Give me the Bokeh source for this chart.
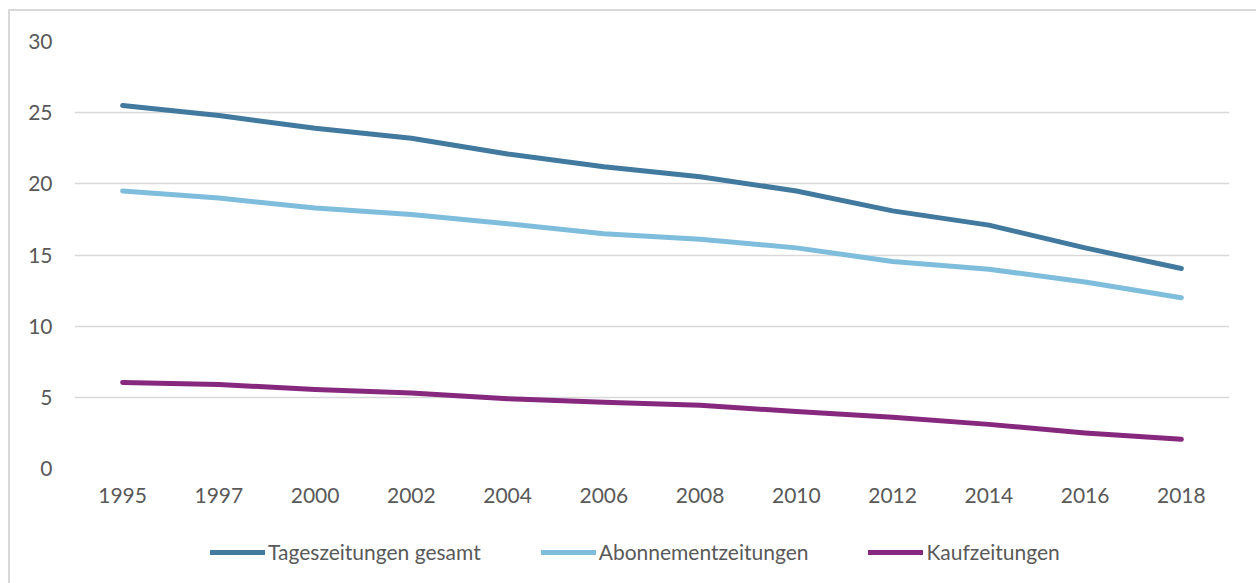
from bokeh.plotting import figure
from bokeh.models import Legend, LegendItem, FactorRange, Range1d, FixedTicker
from bokeh.layouts import column
from bokeh.embed import file_html
from bokeh.resources import INLINE

years = ["1995", "1997", "2000", "2002", "2004", "2006", "2008", "2010", "2012", "2014", "2016", "2018"]
tages = [25.5, 24.8, 23.9, 23.2, 22.1, 21.2, 20.5, 19.5, 18.1, 17.1, 15.5, 14.05]
abo = [19.5, 19.0, 18.3, 17.85, 17.2, 16.5, 16.1, 15.5, 14.55, 14.0, 13.1, 12.0]
kauf = [6.05, 5.9, 5.55, 5.3, 4.9, 4.65, 4.45, 4.0, 3.6, 3.1, 2.5, 2.05]
series_names = ["Tageszeitungen gesamt", "Abonnementzeitungen", "Kaufzeitungen"]
colors = ["#41799F", "#7FBDDC", "#86287E"]
yticks = [0, 5, 10, 15, 20, 25, 30]

FONT = "Lato"
TXT = "#595959"

p = figure(x_range=FactorRange(*years, range_padding=0), y_range=Range1d(0, 30),
           width=1246, height=510,
           min_border_left=64, min_border_top=30, min_border_right=27, min_border_bottom=53,
           output_backend="svg", toolbar_location=None)
p.outline_line_color = None
p.background_fill_color = "white"
p.border_fill_color = "white"

for vals, c in zip([tages, abo, kauf], colors):
    p.line(years, vals, line_color=c, line_width=5, line_cap="round", line_join="round")

p.xgrid.grid_line_color = None
p.ygrid.grid_line_color = "#D9D9D9"
p.ygrid.grid_line_width = 1.5
p.yaxis.ticker = FixedTicker(ticks=yticks)

for ax in (p.xaxis[0], p.yaxis[0]):
    ax.axis_line_color = None
    ax.major_tick_line_color = None
    ax.major_tick_out = 0
    ax.minor_tick_line_color = None
    ax.major_label_text_font = FONT
    ax.major_label_text_font_size = "21px"
    ax.major_label_text_color = TXT
p.xaxis.major_label_standoff = 19
p.yaxis.major_label_standoff = 22

# legend strip below the chart (series drawn out of view, only their legend shows)
lg = figure(width=1246, height=62, x_range=FactorRange(*years, range_padding=0),
            y_range=Range1d(100, 101),
            min_border_left=64, min_border_right=27, min_border_top=0, min_border_bottom=0,
            output_backend="svg", toolbar_location=None)
lg.axis.visible = False
lg.grid.grid_line_color = None
lg.outline_line_color = None
lg.border_fill_color = "white"
lg.background_fill_color = "white"
items = []
for n, vals, c in zip(series_names, [tages, abo, kauf], colors):
    r = lg.line(years, vals, line_color=c, line_width=5, line_cap="round")
    items.append(LegendItem(label=n, renderers=[r]))
legend = Legend(items=items, orientation="horizontal", location=(136, 19),
                label_text_font=FONT, label_text_font_size="21px", label_text_color=TXT,
                glyph_width=55, glyph_height=24, label_standoff=3, spacing=60,
                padding=0, margin=0, border_line_color=None, background_fill_alpha=0)
lg.add_layout(legend)

layout = column(p, lg, spacing=0,
                styles={"border-left": "2px solid #D9D9D9", "border-top": "2px solid #D9D9D9",
                        "margin-left": "8px", "margin-top": "9px"})

open("out.html", "w").write(file_html(layout, INLINE))
